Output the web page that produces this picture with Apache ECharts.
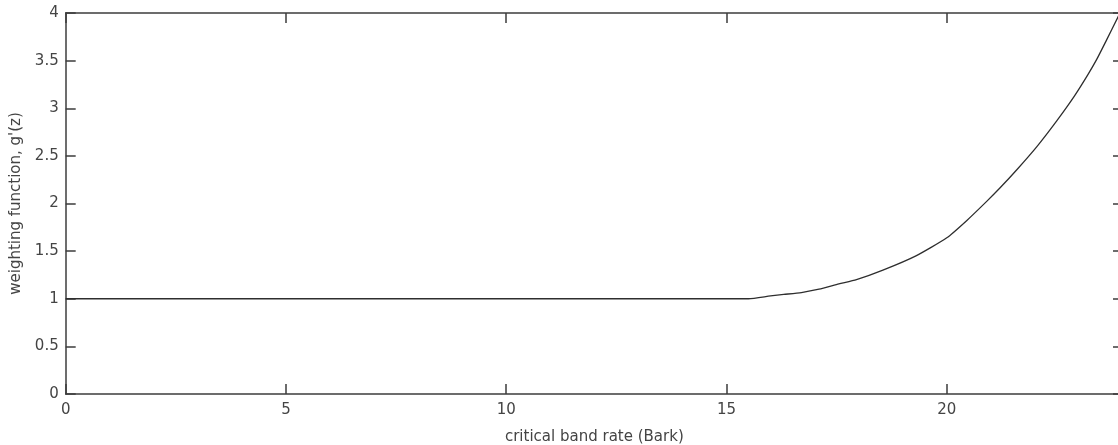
<!DOCTYPE html>
<html>
<head>
<meta charset="utf-8">
<script src="https://cdn.jsdelivr.net/npm/echarts@6/dist/echarts.min.js"></script>
<style>
html,body{margin:0;padding:0;background:#fff;overflow:hidden;}
#chart{width:1118px;height:445px;}
</style>
</head>
<body>
<div id="chart"></div>
<script>
// critical band rate (Bark) and weighting function g'(z)
const bark = [0, 5, 10, 15, 15.5, 16.0, 16.3, 16.7, 17.1, 17.55, 17.95, 18.55, 19.3, 20.0, 20.45, 20.9, 21.2, 21.6, 22.05, 22.5, 22.9, 23.2, 23.4, 23.62, 23.9];
const gz   = [1, 1, 1, 1, 1, 1.03, 1.045, 1.065, 1.10, 1.155, 1.20, 1.30, 1.45, 1.64, 1.82, 2.02, 2.16, 2.36, 2.60, 2.87, 3.13, 3.35, 3.51, 3.71, 3.97];
const xTicks = [0, 5, 10, 15, 20];
const yTicks = [0, 0.5, 1, 1.5, 2, 2.5, 3, 3.5, 4];
const xTitle = 'critical band rate (Bark)';
const yTitle = "weighting function, g'(z)";

const chart = echarts.init(document.getElementById('chart'), null, {renderer: 'canvas'});
const font = 'DejaVu Sans';
const txt = '#444444';
const axisCol = '#3c3c3c';
const lineStyle = {color: axisCol, width: 1.5};
const tick = {show: true, inside: true, length: 10, lineStyle: {color: axisCol, width: 1.5}};

chart.setOption({
  animation: false,
  backgroundColor: '#ffffff',
  grid: {left: 65.7, width: 1057.3, top: 13, height: 381, containLabel: false, outerBoundsMode: 'none'},
  xAxis: [{
    type: 'value', min: 0, max: 24, interval: 5, position: 'bottom',
    axisLine: {show: true, onZero: false, lineStyle},
    axisTick: tick,
    splitLine: {show: false},
    axisLabel: {color: txt, fontFamily: font, fontSize: 15, margin: 9, showMaxLabel: false,
      formatter: v => xTicks.includes(v) ? String(v) : ''},
    name: xTitle, nameLocation: 'middle', nameGap: 36,
    nameTextStyle: {color: txt, fontFamily: font, fontSize: 15}
  }, {
    type: 'value', min: 0, max: 24, interval: 5, position: 'top',
    axisLine: {show: true, onZero: false, lineStyle},
    axisTick: tick, axisLabel: {show: false}, splitLine: {show: false}
  }],
  yAxis: [{
    type: 'value', min: 0, max: 4, interval: 0.5, position: 'left',
    axisLine: {show: true, onZero: false, lineStyle},
    axisTick: tick,
    splitLine: {show: false},
    axisLabel: {color: txt, fontFamily: font, fontSize: 15, margin: 7,
      formatter: v => yTicks.includes(v) ? String(v) : ''},
    name: yTitle, nameLocation: 'middle', nameGap: 33, nameRotate: 90,
    nameTextStyle: {color: txt, fontFamily: font, fontSize: 15}
  }, {
    type: 'value', min: 0, max: 4, interval: 0.5, position: 'right',
    axisLine: {show: true, onZero: false, lineStyle},
    axisTick: tick, axisLabel: {show: false}, splitLine: {show: false}
  }],
  series: [{
    type: 'line',
    data: bark.map((b, i) => [b, gz[i]]),
    showSymbol: false, symbol: 'none',
    smooth: 0.2,
    lineStyle: {color: '#2e2e2e', width: 1.3},
    clip: true
  }]
});
</script>
</body>
</html>
